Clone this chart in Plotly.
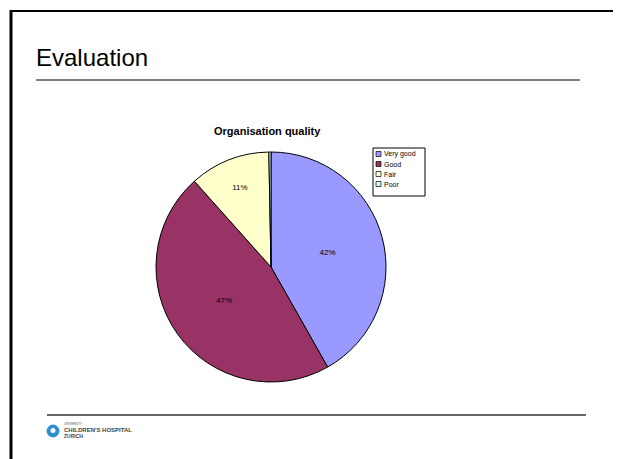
import plotly.graph_objects as go

# ratings share
labels = ["Very good", "Good", "Fair", "Poor"]
values = [41.8, 46.6, 11.3, 0.3]
colors = ["#9999FF", "#993366", "#FFFFCC", "#CCFFFF"]
text_tmpl = ["%{percent:.0%}", "%{percent:.0%}", "%{percent:.0%}", ""]

OFF = 8  # page body margin around the plot div
W, H = 621 - OFF, 459 - OFF


def px(x):
    return (x - OFF) / W


def py(y):
    return 1 - (y - OFF) / H


FONT = "Arial, Liberation Sans"

fig = go.Figure(go.Pie(labels=labels,
                       values=values,
                       sort=False,
                       direction="clockwise",
                       rotation=0,
                       marker=dict(colors=colors, line=dict(color="black", width=1)),
                       texttemplate=text_tmpl,
                       textposition="inside",
                       insidetextorientation="horizontal",
                       textfont=dict(family=FONT, size=8, color="black"),
                       hoverinfo="skip",
                       showlegend=False,
                       domain=dict(x=[px(156), px(386)], y=[py(382), py(152)])))

shapes = [
    # slide frame
    dict(type="line", xref="paper", yref="paper", x0=px(11), x1=px(11), y0=-0.1, y1=py(10),
         line=dict(color="black", width=3)),
    dict(type="line", xref="paper", yref="paper", x0=px(10), x1=px(620), y0=py(11), y1=py(11),
         line=dict(color="black", width=2)),
    dict(type="line", xref="paper", yref="paper", x0=px(619.5), x1=px(619.5), y0=-0.1, y1=py(11),
         line=dict(color="#999999", width=1)),
    # title rule and footer rule
    dict(type="line", xref="paper", yref="paper", x0=px(36), x1=px(580), y0=py(80), y1=py(80),
         line=dict(color="black", width=1)),
    dict(type="line", xref="paper", yref="paper", x0=px(47), x1=px(586), y0=py(415), y1=py(415),
         line=dict(color="#333333", width=1.5)),
    # logo mark
    dict(type="circle", xref="paper", yref="paper", x0=px(47), x1=px(59), y0=py(437), y1=py(425),
         fillcolor="#2b8fd0", line=dict(color="#2b8fd0", width=1)),
    dict(type="circle", xref="paper", yref="paper", x0=px(50.5), x1=px(55.5), y0=py(433), y1=py(428),
         fillcolor="white", line=dict(color="white", width=0)),
    # legend box
    dict(type="rect", xref="paper", yref="paper", x0=px(373), x1=px(425), y0=py(196), y1=py(148),
         fillcolor="white", line=dict(color="black", width=1)),
]

annotations = [
    dict(text="Evaluation", xref="paper", yref="paper", x=px(34), y=py(57), xanchor="left",
         yanchor="middle", showarrow=False,
         font=dict(family=FONT, size=24, color="black")),
    dict(text="<b>Organisation quality</b>", xref="paper", yref="paper", x=px(267), y=py(131),
         xanchor="center", yanchor="middle", showarrow=False,
         font=dict(family=FONT, size=11, color="black")),
    dict(text="UNIVERSITY", xref="paper", yref="paper", x=px(62), y=py(424), xanchor="left",
         yanchor="middle", showarrow=False,
         font=dict(family=FONT, size=3, color="#555555")),
    dict(text="<b>CHILDREN'S HOSPITAL</b>", xref="paper", yref="paper", x=px(62), y=py(430),
         xanchor="left", yanchor="middle", showarrow=False,
         font=dict(family=FONT, size=6, color="#444444")),
    dict(text="<b>ZURICH</b>", xref="paper", yref="paper", x=px(62), y=py(436), xanchor="left",
         yanchor="middle", showarrow=False,
         font=dict(family=FONT, size=5, color="#444444")),
]

# compact legend, one row per rating
for i, (lab, col) in enumerate(zip(labels, colors)):
    yc = 154 + i * 10
    shapes.append(dict(type="rect", xref="paper", yref="paper",
                       x0=px(376), x1=px(381), y0=py(yc + 2.5), y1=py(yc - 2.5),
                       fillcolor=col, line=dict(color="black", width=0.7)))
    annotations.append(dict(text=lab, xref="paper", yref="paper", x=px(382), y=py(yc),
                            xanchor="left", yanchor="middle", showarrow=False,
                            font=dict(family=FONT, size=7, color="black")))

fig.update_layout(width=W, height=H,
                  margin=dict(l=0, r=0, t=0, b=0),
                  paper_bgcolor="white",
                  plot_bgcolor="white",
                  shapes=shapes,
                  annotations=annotations,
                  showlegend=False)

fig.write_html("out.html")
